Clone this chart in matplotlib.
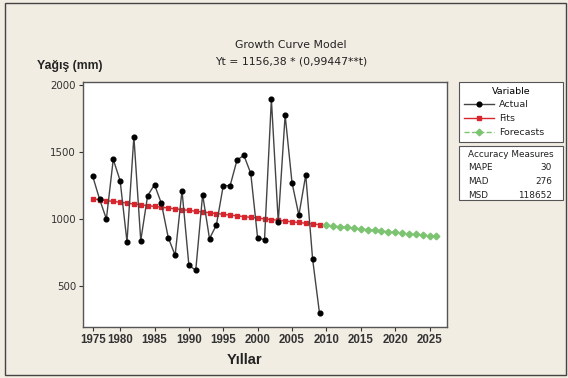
import matplotlib
matplotlib.use('Agg')
import matplotlib.pyplot as plt
from matplotlib.patches import Rectangle

# data (index 1..51, labelled as years)
actual = [1321, 1150, 1000, 1445, 1286, 829, 1615, 839, 1174, 1256,
          1117, 861, 729, 1212, 655, 617, 1182, 853, 955, 1249,
          1249, 1440, 1475, 1341, 858, 846, 1893, 978, 1776, 1271,
          1028, 1329, 699, 296]
fits = [1150, 1144, 1137, 1131, 1125, 1119, 1112, 1106, 1100, 1094,
        1088, 1082, 1076, 1070, 1064, 1058, 1052, 1047, 1041, 1035,
        1029, 1024, 1018, 1012, 1007, 1001, 996, 990, 985, 979,
        974, 968, 963, 958]
forecasts = [952, 947, 942, 937, 931, 926, 921, 916, 911, 906,
             901, 896, 891, 886, 881, 876, 872]
tick_pos = [1, 5, 10, 15, 20, 25, 30, 35, 40, 45, 50]
tick_lab = ['1975', '1980', '1985', '1990', '1995', '2000', '2005',
            '2010', '2015', '2020', '2025']
acc_names = ['MAPE', 'MAD', 'MSD']
acc_vals = ['30', '276', '118652']

W, H = 568, 378
bg = '#f2ede3'
fig = plt.figure(figsize=(W/100, H/100), dpi=100, facecolor=bg)
ax = fig.add_axes([83/W, 1-326.7/H, (446.7-83)/W, (326.7-81.7)/H])
ax.set_facecolor('white')

t_act = list(range(1, len(actual)+1))
t_fc = list(range(len(actual)+1, len(actual)+len(forecasts)+1))
l1, = ax.plot(t_act, actual, color='#444444', lw=1, marker='o', ms=3.4,
              mfc='black', mec='black', label='Actual', zorder=3)
l2, = ax.plot(t_act, fits, color='#d7262e', lw=1, marker='s', ms=3.4,
              mfc='#d7262e', mec='#d7262e', label='Fits', zorder=2)
l3, = ax.plot(t_fc, forecasts, color='#7cc471', lw=1, ls='--', marker='D',
              ms=3.4, mfc='#7cc471', mec='#7cc471', label='Forecasts', zorder=2)

ax.set_xlim(-0.4, 52.5)
ax.set_ylim(196, 2025)
ax.set_xticks(tick_pos)
ax.set_xticklabels(tick_lab, fontfamily='Liberation Sans', fontweight='bold',
                   fontsize=8.3, color='#222222')
ax.set_yticks([500, 1000, 1500, 2000])
ax.tick_params(axis='y', labelsize=7.4, colors='#333333', length=3, width=0.8, pad=2)
ax.tick_params(axis='x', length=3, width=0.8, pad=2, colors='#333333')
for s in ax.spines.values():
    s.set_color('#555555')
    s.set_linewidth(1.0)

fig.text(291/W, 1-45/H, 'Growth Curve Model', ha='center', va='center',
         fontsize=7.8, color='#222222')
fig.text(291/W, 1-62/H, 'Yt = 1156,38 * (0,99447**t)', ha='center', va='center',
         fontsize=7.8, color='#222222')
fig.text(37/W, 1-66/H, 'Yağış (mm)', ha='left', va='center',
         fontfamily='Liberation Sans', fontweight='bold', fontsize=8.8, color='#222222')
fig.text(245/W, 1-360/H, 'Yıllar', ha='center', va='center',
         fontfamily='Liberation Sans', fontweight='bold', fontsize=10.5, color='#222222')

leg = ax.legend(handles=[l1, l2, l3], title='Variable', loc='upper left',
                bbox_to_anchor=(459/W, 1-143/H, 104/W, 61/H),
                bbox_transform=fig.transFigure, mode='expand', borderaxespad=0,
                fancybox=False, edgecolor='#555555', framealpha=1,
                fontsize=6.8, title_fontsize=6.8, handlelength=3.2,
                labelspacing=0.5, borderpad=0.5, handletextpad=0.5)
leg.get_frame().set_linewidth(0.8)
for txt in leg.get_texts():
    txt.set_color('#222222')

# accuracy box
fig.patches.append(Rectangle((459/W, 1-200/H), 104/W, 54/H, transform=fig.transFigure,
                             facecolor='white', edgecolor='#555555', lw=0.8))
fig.text(511/W, 1-155/H, 'Accuracy Measures', ha='center', va='center',
         fontsize=6.4, color='#222222')
for i, (n, v) in enumerate(zip(acc_names, acc_vals)):
    y = 1-(168+14*i)/H
    fig.text(468/W, y, n, ha='left', va='center', fontsize=6.4, color='#222222')
    fig.text(552/W, y, v, ha='right', va='center', fontsize=6.4, color='#222222')

# outer border
fig.patches.append(Rectangle((5/W, 3/H), 561/W, 372/H, transform=fig.transFigure,
                             facecolor='none', edgecolor='#444444', lw=1))

fig.savefig('out.png', dpi=100, facecolor=bg)
